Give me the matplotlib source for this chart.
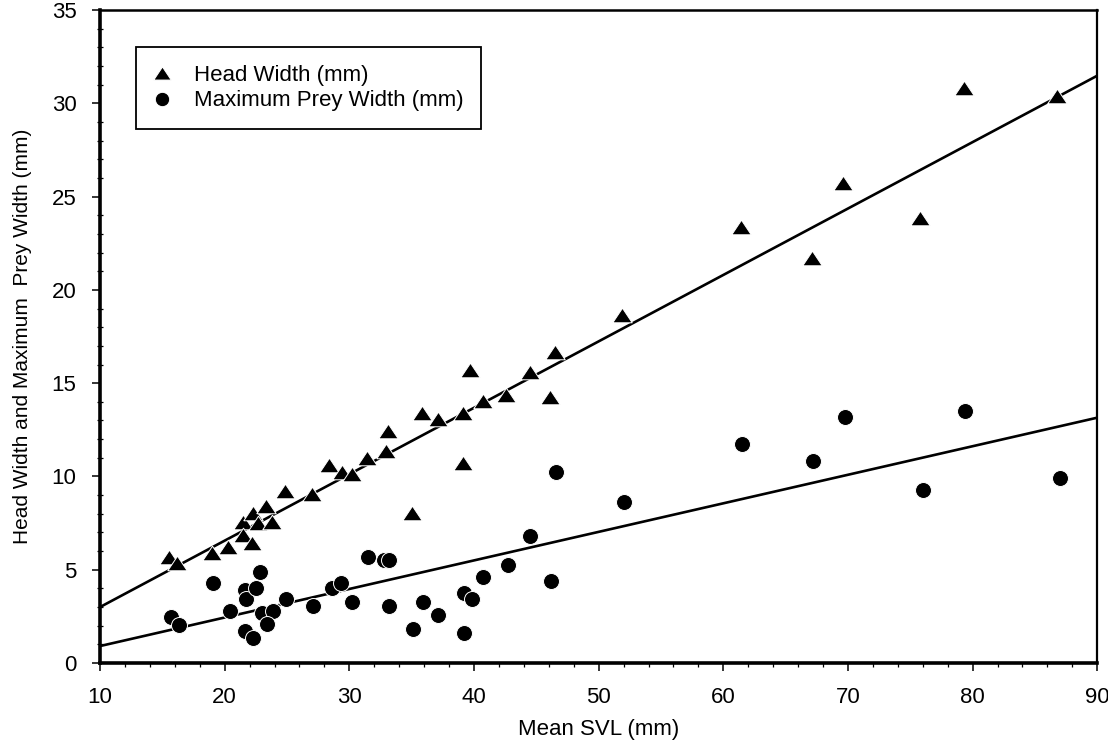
#!/usr/bin/env python3
# -*- coding: utf-8 -*-

import numpy as np
from matplotlib import pyplot as plt
from matplotlib.ticker import MultipleLocator


# head width (triangles)
HW_SVL = [15.5, 16.2, 19.0, 20.3, 21.5, 21.5, 22.2, 22.3, 23.3, 22.7,
          23.8, 24.8, 27.0, 28.4, 29.4, 30.2, 31.4, 32.9, 33.1, 35.0,
          35.8, 37.1, 39.1, 39.1, 39.7, 40.7, 42.6, 44.5, 46.1, 46.5,
          51.9, 61.4, 67.1, 69.6, 75.8, 79.3, 86.8]
HW = [5.70, 5.36, 5.89, 6.23, 7.57, 6.86, 6.45, 8.05, 8.41, 7.50,
      7.57, 9.23, 9.06, 10.61, 10.25, 10.13, 10.97, 11.36, 12.45, 8.05,
      13.38, 13.06, 13.38, 10.70, 15.70, 14.06, 14.36, 15.58, 14.27, 16.68,
      18.65, 23.38, 21.69, 25.71, 23.87, 30.8, 30.4]

# maximum prey width (circles)
PW_SVL = [15.7, 16.3, 19.1, 20.4, 21.6, 21.7, 22.5, 22.8, 21.6, 22.3,
          23.0, 23.9, 23.4, 24.9, 27.1, 28.6, 29.3, 30.2, 31.5, 32.8,
          33.2, 33.2, 35.1, 35.9, 37.1, 39.2, 39.8, 39.2, 40.7, 42.7,
          44.5, 46.2, 46.6, 52.0, 61.5, 67.2, 69.8, 76.0, 79.4, 87.0]
PW = [2.45, 2.04, 4.27, 2.80, 3.91, 3.41, 4.00, 4.86, 1.71, 1.36,
      2.66, 2.80, 2.07, 3.41, 3.05, 4.04, 4.27, 3.29, 5.70, 5.52,
      5.52, 3.05, 1.82, 3.29, 2.57, 3.77, 3.41, 1.59, 4.63, 5.24,
      6.82, 4.41, 10.22, 8.65, 11.72, 10.84, 13.17, 9.27, 13.52, 9.90]

# regression lines (intercept, slope)
HW_FIT = (-0.56, 0.356)
PW_FIT = (-0.62, 0.153)

XLIM = (10, 90)
YLIM = (0, 35)

plt.rcParams['font.family'] = ['Liberation Sans', 'DejaVu Sans']

TRI = [(-1., -0.75), (1., -0.75), (0., 0.75), (-1., -0.75)]

fig = plt.figure(figsize=(11.08, 7.48), dpi=100)
ax = fig.add_axes([0.0903, 0.1136, 0.9, 0.873])

xs = np.array(XLIM, dtype=float)
ax.plot(xs, HW_FIT[0] + HW_FIT[1] * xs, color='black', lw=1.9, zorder=2)
ax.plot(xs, PW_FIT[0] + PW_FIT[1] * xs, color='black', lw=1.9, zorder=2)

ax.plot(HW_SVL, HW, ls='none', marker=TRI, ms=14, color='black',
        mec='white', mew=0.7, label='Head Width (mm)', zorder=3)
ax.plot(PW_SVL, PW, ls='none', marker='o', ms=11.5, color='black',
        mec='white', mew=0.7, label='Maximum Prey Width (mm)', zorder=3)

ax.set_xlim(*XLIM)
ax.set_ylim(*YLIM)

ax.xaxis.set_major_locator(MultipleLocator(10))
ax.xaxis.set_minor_locator(MultipleLocator(2))
ax.yaxis.set_major_locator(MultipleLocator(5))
ax.yaxis.set_minor_locator(MultipleLocator(1))

ax.tick_params(axis='both', which='major', direction='out', length=6,
               width=1.1, pad=11, labelsize=16)
ax.tick_params(axis='y', which='minor', direction='inout', length=4,
               width=0.9)
ax.tick_params(axis='x', which='minor', direction='out', length=3,
               width=0.9)

# last x label sits at the right edge of the figure
fig.canvas.draw()
xlabels = ax.get_xticklabels()
xlabels[-1].set_horizontalalignment('right')

ax.spines['left'].set_linewidth(2.6)
ax.spines['bottom'].set_linewidth(2.6)
ax.spines['top'].set_linewidth(1.8)
ax.spines['right'].set_linewidth(1.6)

ax.set_xlabel('Mean SVL (mm)', fontsize=16, labelpad=8)
ax.set_ylabel('Head Width and Maximum  Prey Width (mm)', fontsize=15,
              labelpad=14)

leg = ax.legend(loc='upper left', bbox_to_anchor=(0.036, 0.943),
                borderaxespad=0, fontsize=16, fancybox=False,
                edgecolor='black', framealpha=1, borderpad=0.8,
                handlelength=0.7, handletextpad=1.1, labelspacing=0.2,
                markerscale=0.9)
leg.get_frame().set_linewidth(1.3)

fig.savefig('out.png', dpi=100)
